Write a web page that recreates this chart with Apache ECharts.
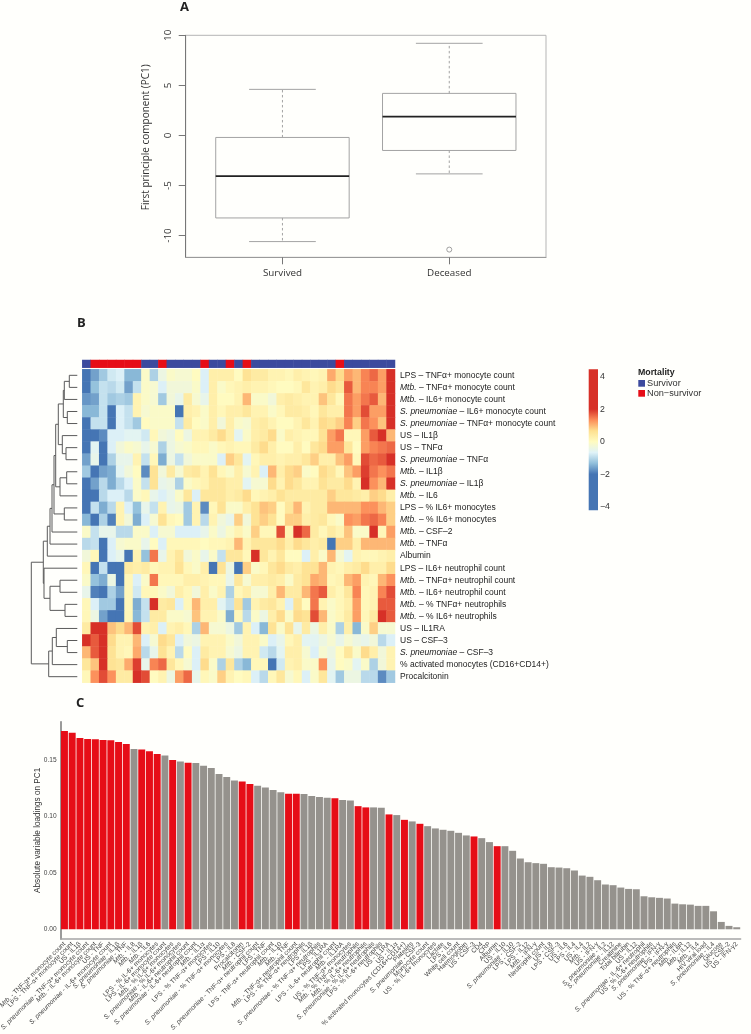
<!DOCTYPE html>
<html><head><meta charset="utf-8">
<style>html,body{margin:0;padding:0;background:#fffffc}#c{width:751px;height:1034px}</style>
<script src="https://cdn.jsdelivr.net/npm/echarts@6/dist/echarts.min.js"></script>
</head><body><div id="c"></div>
<script>
// ---------- Panel A ----------
const boxCategories = ['Survived','Deceased'];
const boxStats = [ // x, low, q1, median, q3, high
  [1,-10.6,-8.24,-4.07,-0.2,4.6],
  [2,-3.84,-1.5,1.87,4.2,9.2]
];
const boxOutliers = [[2,-11.4]];
const boxTicks = [-10,-5,0,5,10];

// ---------- Panel B ----------
const heatRowsLabels = [
 'LPS – TNFα+ monocyte count','Mtb. – TNFα+ monocyte count','Mtb. – IL6+ monocyte count',
 'S. pneumoniae – IL6+ monocyte count','S. pneumoniae – TNFα+ monocyte count','US – IL1β','US – TNFα',
 'S. pneumoniae – TNFα','Mtb. – IL1β','S. pneumoniae – IL1β','Mtb. – IL6','LPS – % IL6+ monocytes',
 'Mtb. – % IL6+ monocytes','Mtb. – CSF–2','Mtb. – TNFα','Albumin','LPS – IL6+ neutrophil count',
 'Mtb. – TNFα+ neutrophil count','Mtb. – IL6+ neutrophil count','Mtb. – % TNFα+ neutrophils',
 'Mtb. – % IL6+ neutrophils','US – IL1RA','US – CSF–3','S. pneumoniae – CSF–3',
 '% activated monocytes (CD16+CD14+)','Procalcitonin'];
const mortalityStrip = [0,1,1,1,1,1,1,0,0,1,0,0,0,0,1,0,0,1,0,1,0,0,0,0,0,0,0,0,0,0,1,0,0,0,0,0,0];
const heatValues = [
 [-2,-1.6,-1.2,-.8,-.7,-1.4,-1.4,-.1,-1.1,-.4,-.1,-.2,-.2,0,-.7,.3,.3,.3,0,.6,.4,.4,.2,.2,.1,.3,.2,.1,.2,1.1,.7,1.2,1,1.4,1.6,1.2,2],
 [-2,-1.3,-.9,-1,-.8,-1.6,-.9,-.1,-.2,-.7,-.3,-.3,-.3,-.1,-.7,.3,-.1,.1,.2,.3,.2,.2,.1,0,0,.1,.5,.2,.3,.7,.5,1.7,1,1.4,1.4,1.2,2],
 [-1.7,-1.6,-.9,-1.2,-1.1,-1.2,.2,-.1,-.2,-1.2,-.3,-.5,.4,-.2,-.5,.3,0,0,.2,1,-.1,-.1,-.3,.3,.4,.3,.2,.2,.9,.5,.1,1.5,1.2,1.5,1.7,1,2],
 [-1.4,-1.4,-.9,-2,-.7,-.9,.2,-.2,-.1,-.1,-.1,-2,.3,.2,-.1,.3,.1,.3,.3,.5,.2,.2,-.1,.1,.4,.4,.3,.1,.5,.3,.3,1.5,1.2,1.8,1.2,1.2,2],
 [-2,-.9,-.9,-2,-.7,-.9,-1.2,0,-.1,-.1,-.1,-.9,.4,0,-.1,.3,-.3,.3,-.1,-.2,.3,.4,.2,0,0,.2,.5,.2,.7,.6,.8,1.4,.8,1.5,1.3,.9,2],
 [-2,-2,-1.8,-.7,-.7,-.6,-.6,-.8,.1,-.3,-.4,0,-.4,.2,.2,.4,.7,.3,-.6,-.1,.3,.4,.7,-.1,.3,.2,.1,.1,.6,1.2,1.5,.1,.1,1.2,1.7,2,1],
 [-2,-.6,-2,-.7,-.3,-.1,-.2,-.5,-.2,-1.1,-.4,-.2,-.1,.1,.1,-.1,.1,.2,.1,.1,.4,.7,.3,0,0,.3,0,.5,.7,1.2,1.2,.5,0,1.2,1.4,1.5,1.6],
 [-1.6,-.5,-2,-1.1,-.5,-.5,.2,-.9,.1,-1.5,-.4,-.9,-.3,-.1,-.1,-.1,-.7,.8,.5,-.6,.1,.3,.3,.2,.3,.3,.5,.8,.3,.3,.9,1.2,.1,1.8,1.6,1.7,2],
 [-1.2,-2,-1.6,-1.5,-.6,-.3,0,-1.8,.6,-.3,.4,-.2,.4,.5,.2,.6,.1,-.1,.3,-.2,.2,-.7,1,.3,.7,.8,-.1,0,.7,.5,.1,.9,1.2,1.9,1.5,1.3,1.5],
 [-2,-1.6,-1,-1.5,-1,-.7,-.1,-.9,.6,-.5,-.4,-1.1,-.1,.1,.2,.5,.5,.3,.3,-.6,-.2,-.2,.7,.2,.7,.5,.2,.2,.6,.4,.4,.7,.2,2,1.3,1,2],
 [-2,-2,-1,-.7,-.7,-1,-.1,.1,-.5,-.7,-.5,-.1,.5,-.7,.5,.5,.5,.3,.4,.7,.1,.2,.3,.6,.4,.4,.4,.4,.4,.8,.5,.5,.4,.3,.8,.7,.3],
 [-2,-.9,-1.5,-1,.2,-.7,-1.3,-.5,-.9,.2,-.5,-.4,-1.2,.2,-1.8,.1,.6,-.1,-.1,.3,.6,.9,.8,0,.5,1,.2,.4,.4,1,1,1,1,1.3,1.3,1,.8],
 [-1.4,-2,-1.1,-1.9,.2,-.3,-1.5,-.7,-.2,.6,.1,0,-1.2,.2,-1,.2,-.3,-.5,.8,-.3,.6,.8,.6,0,.8,.8,.3,.4,.5,.1,-.1,1.3,1.2,1.5,1.6,1.4,.8],
 [-.1,-.9,-.5,-.5,-1,-1,-.1,-.1,-.7,-.2,-.2,-.7,-.7,-.7,-.5,-.1,-.4,-.1,.2,-.1,.8,.1,.1,1.8,.2,2,1.6,.4,.1,.4,.2,.9,-.1,-.1,2,.1,1.2],
 [-1,-.9,-2,-.7,-.2,-.1,-.1,-.5,0,-.7,.1,.1,.1,.1,0,.1,.1,.2,1,.2,.5,.5,.5,.7,.3,.7,.5,.3,.4,-2,.8,.8,.3,1,1,1,1],
 [-.3,.1,-2,-.7,-.5,-2,.2,-1.3,1.5,-.5,.2,.5,-.3,-.1,-.5,-.1,-.9,.5,.5,.1,2,.5,.2,.5,0,0,-.7,.3,-.1,1,-.2,-.6,.2,.1,.1,.2,.3],
 [.1,-2,-.9,-2,-2,.4,.3,.4,.1,.2,.2,.6,.1,-.1,.3,-2,.6,-.4,-2,.8,-.1,.1,.5,.7,.4,.3,.6,.6,1,.2,.1,.3,.4,.7,.3,.3,.7],
 [-.1,-1.3,-1.5,-.4,-2,.1,-.7,-.1,1.5,.1,.1,.1,.3,.3,.2,.1,.1,-.5,.5,-.2,.3,.3,.4,.3,-.1,.4,.6,1.1,1,.1,.2,1,1.2,.2,.1,1,1.3],
 [-.5,-1.9,-2,-1.1,-1.6,.1,-.8,.1,.1,-.1,-.3,.3,.1,-.3,.3,-.1,.2,-1.1,.1,.3,-.2,-.2,.3,1,.4,.4,1,1.5,1.7,.3,.1,.5,1.4,.1,.2,1.4,1.8],
 [.1,-.7,-1.2,-1.2,-2,.1,-1.5,-.9,2,.4,.5,-.7,.1,1,.3,.3,-.6,-.9,.6,-1.2,.2,.4,.5,.2,-.7,.6,0,1.5,.2,-.1,.1,.3,1.2,.1,.2,1.7,1.7],
 [.1,-.4,-1.6,-2,-2,.1,-1.4,-.9,.4,.4,-.1,-.1,-.2,.9,.2,.2,-.1,-1.5,.1,-1,-.1,-.4,.3,.7,-.1,.7,.6,1.8,1,-.1,.1,.4,1.2,.1,.4,2,1.7],
 [.4,2,2,.9,.7,1,1.8,.2,.3,-.7,.2,.3,.1,-1.1,1,-.2,-.2,-.4,-1.2,.2,-.7,-1.4,.6,-.1,.6,-.5,.4,-.4,.3,-.1,-1.1,.3,-1.4,-.1,.8,-.2,-.2],
 [2,1.7,2,.7,.2,.2,1,-.7,-.2,.7,.5,-.7,-.3,-.4,.2,.2,.2,-.1,-.3,.2,.2,-.1,-.7,-.5,.1,.3,-.6,-.6,-.4,-.2,-.5,-.2,-.4,-.5,-.3,-1,-.7],
 [1,1.7,2,.6,.2,.1,1.1,-1,-.5,.6,.2,-1,0,-.7,.4,.2,.2,-.2,-.4,.2,.2,-.8,-1,-.6,.3,.3,-.2,-.7,-.2,-.4,0,.5,-.1,.7,.3,-.3,.2],
 [.5,.9,2,.6,.5,1.1,1.9,-.5,1.4,1.6,.5,.1,-.2,-.7,.7,-.1,-1.1,.5,-1.1,-1.4,.1,.1,-2,-.8,.2,.3,-.1,-.1,1.3,-.5,0,-.1,-.6,-.1,-1.1,-.3,.2],
 [.1,1.3,1.8,1.3,.4,.4,2,1.8,0,.2,-.4,1.2,1.6,-.5,.1,-.1,.8,.2,0,.1,-.7,-1,.1,.5,-.2,.1,-.7,-.1,.5,-.6,-1.2,-.4,-.4,-1,-1,-1.8,-1.2]
];
const heatColors = ['#4575B4','#91BFDB','#E0F3F8','#FFFBC0','#FEE090','#FC8D59','#D73027'];
const colorbarTicks = [-4,-2,0,2,4];
const colorbarRange = [-4.22,4.45];
// dendrogram merges (hclust style): negative = leaf row number, positive = merge number
const dendroLeft  = [-1, 1,-4, 2,-7,-6, 4,-9, 8, 7,-12,10,12,13,14,-18,-20,16,-17,15,-23,-22,22,23,20];
const dendroRight = [-2,-3,-5, 3,-8, 5, 6,-10,-11,9,-13,11,-14,-15,-16,-19,-21,17,18,19,-24,21,-25,-26,24];
const dendroHeight= [8,13,10,14,11.3,15,19,10.6,17.3,21.6,13,23.3,25.3,27.3,30,17.3,12.3,27.3,33.3,34,10,21,25,28.6,46];

// ---------- Panel C ----------
const loadingLabels = [
 'Mtb. - TNF-α+ monocyte count','LPS - TNF-α+ monocyte count','US - IL1β','S. pneumoniae - TNF-α+ monocyte count',
 'Mtb. - IL-6+ monocyte count','US - TNF','S. pneumoniae - IL-6+ monocyte count','S. pneumoniae - IL1β','S. pneumoniae - TNF',
 'Mtb. - IL8','Mtb. - IL1β','Mtb. - IL6','LPS - % IL-6+ monocytes','LPS - IL-6+ monocyte count','Mtb. - % IL-6+ monocytes',
 'S. pneumoniae - % IL-6+ monocytes','Mtb. - IL-6+ neutrophil count','S. pneumoniae - IL-6+ neutrophil count','Mtb. - IL1α',
 'LPS - % TNF-α+ monocytes','LPS - IL10','S. pneumoniae - % TNF-α+ monocytes','LPS - IL8','Procalcitonin','Mtb. - CSF-2',
 'S. pneumoniae - TNF-α+ neutrophil count','LPS - TNF','LPS - TNF-α+ neutrophil count','Mtb. - IL10','Mtb. - TNF',
 'Mtb. - TNF-α+ neutrophil count','LPS - % TNF-α+ neutrophils','LPS - IL1β','S. pneumoniae - % TNF-α+ neutrophils','LPS - IL1RA',
 'LPS - IL-6+ neutrophil count','Mtb. - IL1RA','US - % TNF-α+ monocytes','Mtb. - % TNF-α+ neutrophils','Mtb. - % IL-6+ neutrophils',
 'S. pneumoniae - % IL-6+ neutrophils','LPS - % IL-6+ neutrophils','US - IL1RA','US - IL1α','% activated monocytes (CD16+CD14+)',
 'Platelets','S. pneumoniae - CSF-3','Monocyte count','US - % IL-6+ monocytes','Lactate','LPS - IL6','White cell count','Haemoglobin',
 'US - CSF-3','CD4','CRP','Albumin','US - IL10','S. pneumoniae - IL10','LPS - CSF-2','LPS - IL12','Mtb. - IFN-γ','Neutrophil count',
 'US - IL8','LPS - CSF-3','US - IL6','LPS - IL4','US - IL4','Mtb. - IL2','US - IFN-γ','S. pneumoniae - IL2','S. pneumoniae - IL12',
 'Creatinine','Total bilirubin','US - IL12','S. pneumoniae - IL-6+ neutrophil','US - % IL-6+ neutrophils','S. pneumoniae - IFN-γ','LPS - IFN-γ',
 'US - % TNF-α+ neutrophils','Mtb. - IL6R','Mtb. - IL12','Mtb. - IL4','HIV viral load','S. pneumoniae - IL4','Glucose','US - CSF-2','US - IFN-γ2'];
const loadingValues = [
 .1754,.1739,.1692,.1683,.1680,.1674,.1671,.1656,.1639,.1594,.1591,.1574,.1550,.1538,.1497,.1485,.1473,.1470,.1447,.1426,.1373,.1346,
 .1317,.1308,.1284,.1270,.1255,.1231,.1211,.1199,.1199,.1196,.1178,.1169,.1163,.1160,.1143,.1140,.1089,.1078,.1078,.1075,.1016,.1010,
 .0968,.0954,.0933,.0912,.0892,.0880,.0871,.0853,.0830,.0821,.0806,.0771,.0735,.0735,.0694,.0626,.0593,.0585,.0579,.0549,.0546,.0540,
 .0520,.0475,.0464,.0434,.0396,.0390,.0369,.0357,.0354,.0292,.0283,.0278,.0272,.0227,.0221,.0218,.0207,.0207,.0159,.0065,.0030,.0018];
const loadingRedIndex = [1,2,3,4,5,6,7,8,9,11,12,13,15,17,24,25,30,31,36,39,40,43,45,47,54,57];
const loadingTicks = [0,.05,.1,.15];

// ---------- build ----------
const RED='#e60d17', GREY='#95928d', BLUE='#3c4a9e', SANS='"Liberation Sans",Arial,sans-serif', OPEN='"Open Sans",sans-serif';
const heatData=[]; heatValues.forEach((r,y)=>r.forEach((v,x)=>heatData.push([x,y,v])));
const stripData=mortalityStrip.map((v,x)=>[x,0,v]);
const colIdx=mortalityStrip.map((_,i)=>String(i+1));

// dendrogram segments
const mergePos=[], dendroData=[];
function childInfo(c){ return c<0 ? {p:-c-0.5,h:0} : mergePos[c-1]; }
dendroHeight.forEach((h,i)=>{
  const a=childInfo(dendroLeft[i]), b=childInfo(dendroRight[i]);
  dendroData.push([h,a.p,b.p,a.h,b.h]);
  mergePos.push({p:(a.p+b.p)/2,h});
});

function italicize(s){
  const m=s.match(/^(S\. pneumoniae|Mtb\.)(.*)$/);
  return m?`{i|${m[1]}}{n|${m[2]}}`:`{n|${s}}`;
}
// colour bar gradient
const [cbMin,cbMax]=colorbarRange;
const cbStops=[{offset:0,color:heatColors[6]}];
[6,5,4,3,2,1,0].forEach(k=>{const v=-2+k*4/6; cbStops.push({offset:(cbMax-v)/(cbMax-cbMin),color:heatColors[k]});});
cbStops.push({offset:1,color:heatColors[0]});

const hiddenCat=(gi,data)=>({type:'category',gridIndex:gi,data,show:false});
const letter=(t,x,y)=>({type:'text',x,y,style:{text:t,font:'bold 13px '+OPEN,fill:'#222',verticalAlign:'middle'}});

const option={
 backgroundColor:'#fffffc',animation:false,
 grid:[
  {left:185.7,top:35.3,width:360.3,height:222,outerBoundsMode:'none',show:true,borderColor:'#b5b5b5',borderWidth:1,backgroundColor:'transparent'},
  {left:82.3,top:360,width:312.7,height:7.7,outerBoundsMode:'none'},
  {left:82.3,top:369.3,width:312.7,height:313.4,outerBoundsMode:'none'},
  {left:31.3,top:369.3,width:46,height:313.4,outerBoundsMode:'none'},
  {left:588.7,top:369.3,width:9.3,height:141,outerBoundsMode:'none'},
  {left:60.6,top:721.7,width:680,height:217.3,outerBoundsMode:'none'}
 ],
 xAxis:[
  {type:'value',gridIndex:0,min:0.42,max:2.58,splitLine:{show:false},
   axisLine:{show:true,onZero:false,lineStyle:{color:'#9a9a9a'}},
   axisTick:{length:7,customValues:[1,2],lineStyle:{color:'#777'}},
   axisLabel:{customValues:[1,2],formatter:v=>boxCategories[v-1]||'',margin:11,fontFamily:OPEN,fontSize:9.8,color:'#333'}},
  hiddenCat(1,colIdx),
  hiddenCat(2,colIdx),
  {type:'value',gridIndex:3,min:0,max:46,inverse:true,show:false},
  {type:'value',gridIndex:4,min:0,max:1,show:false},
  {type:'category',gridIndex:5,data:loadingLabels,axisLine:{onZero:false,lineStyle:{color:'#a5a5a5',width:1.5}},
   axisTick:{alignWithLabel:true,interval:0,length:2.5,lineStyle:{color:'#444',width:.7}},
   axisLabel:{interval:0,rotate:45,margin:4,hideOverlap:false,color:'#444',fontFamily:SANS,fontSize:6.6,
    formatter:italicize,rich:{i:{fontStyle:'italic',fontSize:6.6,color:'#444',fontFamily:SANS},n:{fontSize:6.6,color:'#444',fontFamily:SANS}}}}
 ],
 yAxis:[
  {type:'value',gridIndex:0,min:-12.17,max:10,splitLine:{show:false},
   name:'First principle component (PC1)',nameLocation:'middle',nameGap:35,nameRotate:90,
   nameTextStyle:{fontFamily:OPEN,fontSize:10,color:'#333',padding:[0,0,0,18]},
   axisLine:{show:true,lineStyle:{color:'#777'}},
   axisTick:{length:7,customValues:boxTicks,lineStyle:{color:'#777'}},
   axisLabel:{customValues:boxTicks,rotate:90,margin:12,fontFamily:OPEN,fontSize:9.8,color:'#333'}},
  {type:'category',gridIndex:1,data:['Mortality'],show:false},
  {type:'category',gridIndex:2,data:heatRowsLabels,inverse:true,position:'right',axisLine:{show:false},axisTick:{show:false},
   axisLabel:{interval:0,margin:5,fontFamily:SANS,fontSize:8.5,color:'#222',formatter:italicize,
    rich:{i:{fontStyle:'italic',fontSize:8.5,color:'#222',fontFamily:SANS},n:{fontSize:8.5,color:'#222',fontFamily:SANS}}}},
  {type:'value',gridIndex:3,min:0,max:26,inverse:true,show:false},
  {type:'value',gridIndex:4,min:cbMin,max:cbMax,position:'right',splitLine:{show:false},axisLine:{show:false},axisTick:{show:false},
   axisLabel:{customValues:colorbarTicks,margin:2,fontFamily:SANS,fontSize:8.7,color:'#333',formatter:v=>String(v).replace('-','−')}},
  {type:'value',gridIndex:5,min:-0.0086,max:0.1836,splitLine:{show:false},
   name:'Absolute variable loadings on PC1',nameLocation:'middle',nameGap:19,nameRotate:90,nameMoveOverlap:false,
   nameTextStyle:{fontFamily:SANS,fontSize:8.2,color:'#333'},
   axisLine:{show:true,lineStyle:{color:'#7a7a7a',width:1.5}},
   axisTick:{length:2.5,customValues:loadingTicks,lineStyle:{color:'#555',width:.7}},
   axisLabel:{customValues:loadingTicks,margin:4,fontFamily:SANS,fontSize:6.6,color:'#444',formatter:v=>v.toFixed(2)}}
 ],
 visualMap:[
  {show:false,seriesIndex:1,dimension:2,min:-2,max:2,inRange:{color:heatColors}},
  {show:false,seriesIndex:0,dimension:2,min:0,max:1,inRange:{color:[BLUE,RED]}}
 ],
 series:[
  {type:'heatmap',xAxisIndex:1,yAxisIndex:1,data:stripData,progressive:0,silent:true},
  {type:'heatmap',xAxisIndex:2,yAxisIndex:2,data:heatData,progressive:0,silent:true},
  {type:'custom',xAxisIndex:0,yAxisIndex:0,data:boxStats,silent:true,clip:false,
   encode:{x:0,y:[1,2,3,4,5]},
   renderItem(params,api){
    const x=api.value(0),lo=api.value(1),q1=api.value(2),med=api.value(3),q3=api.value(4),hi=api.value(5);
    const p=(a,b)=>api.coord([a,b]);
    const grey={stroke:'#a3a3a3',lineWidth:1,fill:null};
    const dash={stroke:'#a3a3a3',lineWidth:1,lineDash:[2.5,2.5],fill:null};
    const seg=(a,b,style)=>({type:'line',shape:{x1:a[0],y1:a[1],x2:b[0],y2:b[1]},style});
    const tl=p(x-.4,q3),br=p(x+.4,q1);
    return {type:'group',children:[
      seg(p(x,q3),p(x,hi),dash),seg(p(x,q1),p(x,lo),dash),
      seg(p(x-.2,hi),p(x+.2,hi),grey),seg(p(x-.2,lo),p(x+.2,lo),grey),
      {type:'rect',shape:{x:tl[0],y:tl[1],width:br[0]-tl[0],height:br[1]-tl[1]},style:grey},
      seg(p(x-.4,med),p(x+.4,med),{stroke:'#222',lineWidth:1.7})
    ]};
   }},
  {type:'scatter',xAxisIndex:0,yAxisIndex:0,data:boxOutliers,symbol:'circle',symbolSize:5,silent:true,
   itemStyle:{color:'#fffffc',borderColor:'#8a8a8a',borderWidth:1}},
  {type:'custom',xAxisIndex:3,yAxisIndex:3,data:dendroData,silent:true,clip:false,
   encode:{x:[0,3,4],y:[1,2]},
   renderItem(params,api){
    const h=api.value(0),a=api.value(1),b=api.value(2),ha=api.value(3),hb=api.value(4);
    return {type:'polyline',shape:{points:[api.coord([ha,a]),api.coord([h,a]),api.coord([h,b]),api.coord([hb,b])]},
      style:{stroke:'#5a5a5a',lineWidth:1,fill:null}};
   }},
  {type:'custom',xAxisIndex:4,yAxisIndex:4,data:[[0,cbMin,1,cbMax]],silent:true,
   encode:{x:[0,2],y:[1,3]},
   renderItem(params,api){
    const tl=api.coord([api.value(0),api.value(3)]),br=api.coord([api.value(2),api.value(1)]);
    return {type:'rect',shape:{x:tl[0],y:tl[1],width:br[0]-tl[0],height:br[1]-tl[1]},
      style:{fill:new echarts.graphic.LinearGradient(0,0,0,1,cbStops)}};
   }},
  {type:'bar',xAxisIndex:5,yAxisIndex:5,barWidth:'90%',silent:true,
   data:loadingValues.map((v,i)=>({value:v,itemStyle:{color:loadingRedIndex.includes(i+1)?RED:GREY}}))}
 ],
 graphic:[
  letter('A',180,7),letter('B',77,323),letter('C',76,703),
  {type:'text',x:638,y:373,style:{text:'Mortality',font:'bold 8.8px '+SANS,fill:'#222',verticalAlign:'middle'}},
  {type:'rect',shape:{x:638.3,y:380,width:6.7,height:6.7},style:{fill:BLUE}},
  {type:'rect',shape:{x:638.3,y:390,width:6.7,height:6.7},style:{fill:RED}},
  {type:'text',x:647,y:383.4,style:{text:'Survivor',font:'9.2px '+SANS,fill:'#333',verticalAlign:'middle'}},
  {type:'text',x:647,y:393.5,style:{text:'Non−survivor',font:'9.2px '+SANS,fill:'#333',verticalAlign:'middle'}}
 ]
};
const chart=echarts.init(document.getElementById('c'),null,{renderer:'canvas'});
chart.setOption(option);
</script></body></html>
